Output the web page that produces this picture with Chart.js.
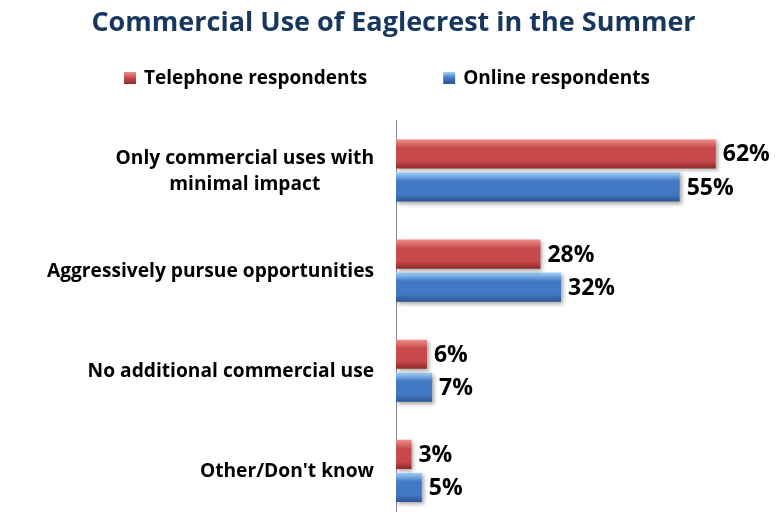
<!DOCTYPE html>
<html>
<head>
<meta charset="utf-8">
<title>Commercial Use of Eaglecrest in the Summer</title>
<script src="https://cdn.jsdelivr.net/npm/chart.js@4"></script>
<style>
  html, body { margin: 0; padding: 0; background: #fff; overflow: hidden; }
  #wrap { position: relative; width: 776px; height: 521px; }
</style>
</head>
<body>
<div id="wrap"><canvas id="myChart"></canvas></div>
<script>
// Данные графика
const categories = [
  ['Only commercial uses with', 'minimal impact'],
  'Aggressively pursue opportunities',
  'No additional commercial use',
  "Other/Don't know"
];
const telephoneValues = [62, 28, 6, 3];
const onlineValues = [55, 32, 7, 5];
const seriesNames = ['Telephone respondents', 'Online respondents'];

const FONT = '"Open Sans", Lato, sans-serif';

// цвета: верх / середина / низ
const palettes = [
  { top: '#f08e8c', mid: '#c8494a', bot: '#8c2a29', solid: '#c0504d' },
  { top: '#a0d0fa', mid: '#4279c4', bot: '#2a5594', solid: '#4a7ec4' }
];

// Градиент и тень для столбиков
const barStyle = {
  id: 'barStyle',
  beforeDatasetsDraw(chart) {
    const ctx = chart.ctx;
    chart.data.datasets.forEach((ds, i) => {
      const p = palettes[i];
      chart.getDatasetMeta(i).data.forEach(el => {
        const top = el.y - el.height / 2;
        const g = ctx.createLinearGradient(0, top, 0, top + el.height);
        g.addColorStop(0, p.top);
        g.addColorStop(0.3, p.mid);
        g.addColorStop(0.75, p.mid);
        g.addColorStop(1, p.bot);
        el.options = Object.assign({}, el.options, { backgroundColor: g });
      });
    });
    ctx.save();
    ctx.shadowColor = 'rgba(0,0,0,0.35)';
    ctx.shadowBlur = 4;
    ctx.shadowOffsetX = 2;
    ctx.shadowOffsetY = 2;
  },
  afterDatasetsDraw(chart) {
    chart.ctx.restore();
  }
};

// Подписи значений, подписи категорий и легенда
const textPlugin = {
  id: 'textPlugin',
  afterDraw(chart) {
    const ctx = chart.ctx;
    ctx.save();
    ctx.fillStyle = '#000';

    // значения у концов столбиков
    ctx.font = 'bold 23px ' + FONT;
    ctx.textAlign = 'left';
    ctx.textBaseline = 'middle';
    chart.data.datasets.forEach((ds, i) => {
      chart.getDatasetMeta(i).data.forEach((el, j) => {
        ctx.fillText(ds.data[j] + '%', el.x + 7, el.y + 1);
      });
    });

    // категории: блок выровнен вправо, строки по центру
    const yScale = chart.scales.y;
    ctx.font = 'bold 19.2px ' + FONT;
    ctx.textAlign = 'center';
    const right = 374, lh = 26;
    categories.forEach((cat, j) => {
      const lines = Array.isArray(cat) ? cat : [cat];
      const w = Math.max(...lines.map(l => ctx.measureText(l).width));
      const cx = right - w / 2;
      const cy = yScale.getPixelForValue(j) + 1;
      lines.forEach((l, k) => {
        ctx.fillText(l, cx, cy + (k - (lines.length - 1) / 2) * lh);
      });
    });

    // легенда
    ctx.font = 'bold 19px ' + FONT;
    ctx.textAlign = 'left';
    const box = 12, gapText = 8, gapItem = 76, ly = 78;
    const widths = seriesNames.map(n => box + gapText + ctx.measureText(n).width);
    const total = widths.reduce((a, b) => a + b, 0) + gapItem;
    let x = 387 - total / 2;
    seriesNames.forEach((n, i) => {
      const p = palettes[i];
      const g = ctx.createLinearGradient(0, ly - box / 2, 0, ly + box / 2);
      g.addColorStop(0, p.top);
      g.addColorStop(0.5, p.mid);
      g.addColorStop(1, p.bot);
      ctx.fillStyle = g;
      ctx.fillRect(x, ly - box / 2, box, box);
      ctx.fillStyle = '#000';
      ctx.fillText(n, x + box + gapText, ly + 1);
      x += widths[i] + gapItem;
    });
    ctx.restore();
  }
};

function createChart() {
  const ctx = document.getElementById('myChart').getContext('2d');
  new Chart(ctx, {
    type: 'bar',
    data: {
      labels: categories,
      datasets: [{
        label: seriesNames[0],
        data: telephoneValues,
        backgroundColor: palettes[0].solid,
        borderWidth: 0
      }, {
        label: seriesNames[1],
        data: onlineValues,
        backgroundColor: palettes[1].solid,
        borderWidth: 0
      }]
    },
    options: {
      indexAxis: 'y',
      responsive: true,
      maintainAspectRatio: false,
      animation: false,
      layout: { padding: { left: 30, right: 19, top: 0, bottom: 0 } },
      datasets: {
        bar: { categoryPercentage: 0.66, barPercentage: 0.88 }
      },
      scales: {
        x: {
          min: 0,
          max: 70,
          display: false
        },
        y: {
          grid: { display: false, drawTicks: false },
          border: { display: true, color: '#8a8a8a', width: 1 },
          ticks: { display: false },
          afterFit(scale) { scale.width = 366; }
        }
      },
      plugins: {
        legend: { display: false },
        tooltip: { enabled: false },
        title: {
          display: true,
          text: 'Commercial Use of Eaglecrest in the Summer',
          color: '#17375e',
          font: { family: FONT, size: 27, weight: 'bold' },
          padding: { top: 7, bottom: 81 }
        }
      }
    },
    plugins: [barStyle, textPlugin]
  });
}

createChart();
</script>
</body>
</html>
